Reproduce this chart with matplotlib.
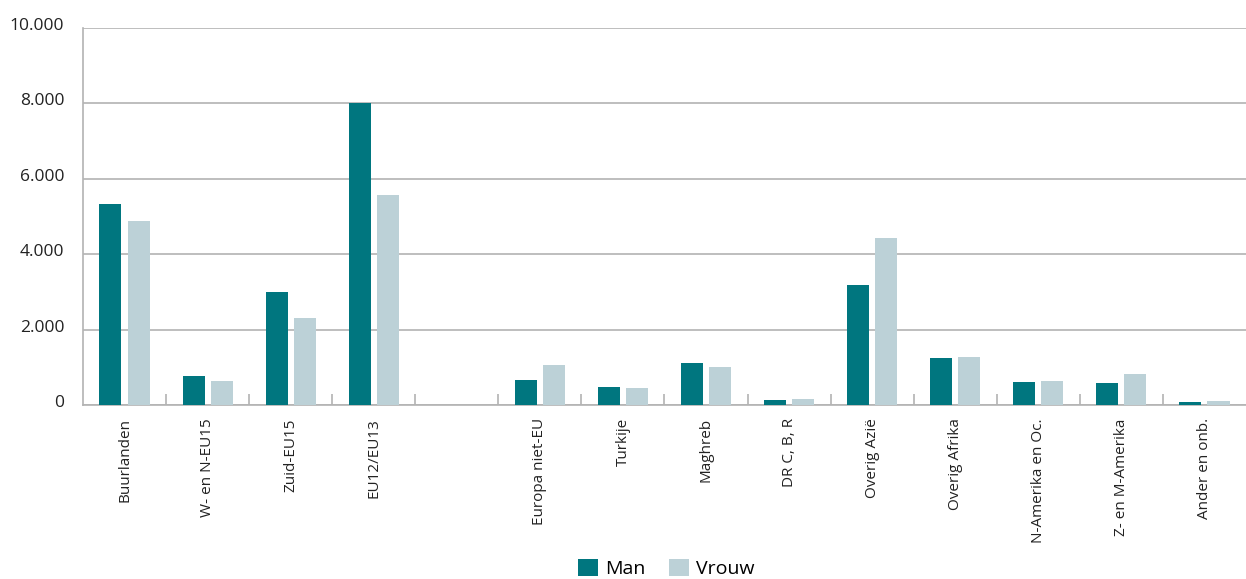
import numpy as np
import matplotlib.pyplot as plt
import matplotlib.transforms as mtransforms
from matplotlib.ticker import FuncFormatter

plt.rcParams['font.family'] = ['Open Sans', 'DejaVu Sans']

# categories (empty slot separates EU from non-EU groups)
categories = ['Buurlanden', 'W- en N-EU15', 'Zuid-EU15', 'EU12/EU13', '',
              'Europa niet-EU', 'Turkije', 'Maghreb', 'DR C, B, R', 'Overig Azië',
              'Overig Afrika', 'N-Amerika en Oc.', 'Z- en M-Amerika', 'Ander en onb.']
man = [5330, 770, 3000, 8010, np.nan,
       660, 490, 1110, 130, 3180,
       1250, 610, 580, 80]
vrouw = [4880, 640, 2310, 5570, np.nan,
         1060, 450, 1010, 160, 4430,
         1270, 640, 820, 110]

TEAL = '#00767f'
LIGHT = '#bcd1d7'
GRID = '#b3b3b3'

fig = plt.figure(figsize=(12.46, 5.79), dpi=100)
ax = fig.add_axes([0.0666, 0.3005, 0.9334, 0.6511])

x = np.arange(len(categories))
w = 0.265
off = 0.169
ax.bar(x - off, man, width=w, color=TEAL, label='Man', zorder=3)
ax.bar(x + off, vrouw, width=w, color=LIGHT, label='Vrouw', zorder=3)

ax.set_xlim(-0.5, len(categories) - 0.5)
ax.set_ylim(0, 10000)
ax.set_yticks(np.arange(0, 10001, 2000))
ax.yaxis.set_major_formatter(FuncFormatter(lambda v, p: f'{int(v):,}'.replace(',', '.')))
ax.grid(axis='y', color=GRID, linewidth=1.2, zorder=0)
ax.tick_params(axis='y', length=0, pad=13.5, labelsize=12.5, labelcolor='#222222')
# labels sit slightly above their gridlines
shift = mtransforms.ScaledTranslation(0, 4 / 100, fig.dpi_scale_trans)
for lbl in ax.get_yticklabels():
    lbl.set_transform(lbl.get_transform() + shift)

# category labels at slot centres, small tick marks at slot boundaries
ax.set_xticks(x)
ax.set_xticklabels(categories, rotation=90, fontsize=11, color='#222222')
ax.tick_params(axis='x', which='major', length=0, pad=9.5)
ax.set_xticks(np.arange(0.5, len(categories) - 0.5, 1), minor=True)
ax.tick_params(axis='x', which='minor', direction='in', length=8, width=1.2, color=GRID)

for s in ['top', 'right']:
    ax.spines[s].set_visible(False)
for s in ['left', 'bottom']:
    ax.spines[s].set_color(GRID)
    ax.spines[s].set_linewidth(1.2)

fig.legend(loc='center', bbox_to_anchor=(0.535, 0.018), ncol=2, frameon=False,
           fontsize=14, handlelength=1.0, handleheight=1.0, handletextpad=0.4,
           columnspacing=1.2)

fig.savefig('out.png', dpi=100)
